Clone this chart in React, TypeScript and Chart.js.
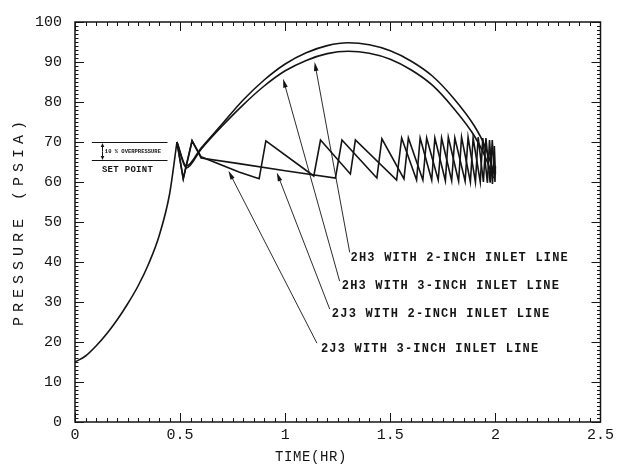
import { useEffect, useRef } from "react";
import { Chart, registerables } from "chart.js";

Chart.register(...registerables);

// ---- Data ----
const riseTime = [0, 0.05, 0.1, 0.15, 0.2, 0.25, 0.3, 0.35, 0.4, 0.45, 0.485];
const risePressure = [15, 16.5, 19, 22, 25.5, 29.5, 34, 39.5, 46.5, 57, 70];

const h3TwoInchTime = [0.485, 0.53, 0.6, 0.7, 0.8, 0.9, 1.0, 1.1, 1.2, 1.3, 1.4, 1.5, 1.6, 1.7, 1.8, 1.9, 1.95, 1.995];
const h3TwoInchPressure = [70, 64, 68.5, 74.5, 80.5, 85.5, 89.5, 92.3, 94.1, 94.8, 94.3, 92.8, 90.2, 86.5, 81, 74, 69, 62];

const h3ThreeInchTime = [0.485, 0.53, 0.6, 0.7, 0.8, 0.9, 1.0, 1.1, 1.2, 1.3, 1.4, 1.5, 1.6, 1.7, 1.8, 1.9, 1.95, 1.99];
const h3ThreeInchPressure = [70, 63.5, 68.2, 74, 79.3, 84, 87.8, 90.4, 92.1, 92.7, 92.2, 90.7, 88, 84.2, 78.5, 71.5, 66.5, 61];

const j3TwoInchTime = [0.485, 0.515, 0.557, 0.6, 0.78, 0.876, 0.908, 1.136, 1.168, 1.31, 1.334, 1.53, 1.554, 1.625, 1.642, 1.697, 1.712, 1.762, 1.776, 1.825, 1.839, 1.881, 1.894, 1.928, 1.94, 1.962, 1.972, 1.986, 1.995, 2.0];
const j3TwoInchPressure = [70, 60.8, 70.3, 66.3, 62.5, 60.8, 70.3, 61.5, 70.5, 62, 70.5, 60.5, 71, 60.5, 71, 60.5, 71, 60.3, 71.2, 60.2, 71.2, 60, 71, 60, 71, 59.8, 70.5, 59.5, 69, 62];

const j3ThreeInchTime = [0.485, 0.515, 0.557, 0.6, 0.78, 1.0, 1.239, 1.27, 1.436, 1.46, 1.565, 1.586, 1.655, 1.673, 1.728, 1.744, 1.792, 1.807, 1.856, 1.87, 1.905, 1.918, 1.943, 1.955, 1.975, 1.985, 1.998, 2.0];
const j3ThreeInchPressure = [70, 60.8, 70.3, 66, 64.6, 62.8, 61, 70.5, 61, 70.8, 60.8, 71, 60.5, 71, 60.5, 71, 60.3, 71, 60.2, 71.2, 60, 71.2, 60, 71, 59.8, 70.5, 60, 64];

const xTickLabels = ["0", "0.5", "1", "1.5", "2", "2.5"];
const yTickLabels = ["0", "10", "20", "30", "40", "50", "60", "70", "80", "90", "100"];

const seriesLabels = [
  "2H3 WITH 2-INCH INLET LINE",
  "2H3 WITH 3-INCH INLET LINE",
  "2J3 WITH 2-INCH INLET LINE",
  "2J3 WITH 3-INCH INLET LINE",
];
const xTitle = "TIME(HR)";
const yTitle = "PRESSURE (PSIA)";
const overpressureText = "10 % OVERPRESSURE";
const setPointText = "SET POINT";
const setPointPressure = 65.5;
const overpressurePressure = 70;

const INK = "#141414";
const MONO = '"Liberation Mono", "DejaVu Sans Mono", monospace';

function pairs(t: number[], p: number[]) {
  return t.map((v, i) => ({ x: v, y: p[i] }));
}

// annotation placements (data coordinates): text anchor, arrow start, arrow tip
const callouts = [
  { text: seriesLabels[0], tx: 1.311, ty: 40.3, sx: 1.307, sy: 42.4, ex: 1.14, ey: 90.0 },
  { text: seriesLabels[1], tx: 1.269, ty: 33.2, sx: 1.259, sy: 35.2, ex: 0.99, ey: 85.8 },
  { text: seriesLabels[2], tx: 1.222, ty: 26.2, sx: 1.212, sy: 28.2, ex: 0.96, ey: 62.4 },
  { text: seriesLabels[3], tx: 1.17, ty: 17.5, sx: 1.151, sy: 19.7, ex: 0.73, ey: 62.8 },
];

function arrow(ctx: CanvasRenderingContext2D, x1: number, y1: number, x2: number, y2: number, len = 9, half = 2.3) {
  const ang = Math.atan2(y2 - y1, x2 - x1);
  ctx.beginPath();
  ctx.moveTo(x1, y1);
  ctx.lineTo(x2 - Math.cos(ang) * (len - 2), y2 - Math.sin(ang) * (len - 2));
  ctx.stroke();
  ctx.beginPath();
  ctx.moveTo(x2, y2);
  ctx.lineTo(x2 - Math.cos(ang) * len - Math.sin(ang) * half, y2 - Math.sin(ang) * len + Math.cos(ang) * half);
  ctx.lineTo(x2 - Math.cos(ang) * len + Math.sin(ang) * half, y2 - Math.sin(ang) * len - Math.cos(ang) * half);
  ctx.closePath();
  ctx.fill();
}

const decor = {
  id: "decor",
  afterDraw(chart: any) {
    const { ctx, chartArea: a } = chart;
    const x = chart.scales.x;
    const y = chart.scales.y;
    ctx.save();
    ctx.strokeStyle = INK;
    ctx.fillStyle = INK;
    // frame
    ctx.lineWidth = 1.5;
    ctx.strokeRect(a.left, a.top, a.right - a.left, a.bottom - a.top);
    // inward ticks
    ctx.lineWidth = 1;
    ctx.beginPath();
    for (let i = 0; i <= 50; i++) {
      const px = Math.round(x.getPixelForValue(i * 0.05)) + 0.5;
      const len = i % 10 === 0 ? 9 : 4;
      ctx.moveTo(px, a.bottom);
      ctx.lineTo(px, a.bottom - len);
      ctx.moveTo(px, a.top);
      ctx.lineTo(px, a.top + len);
    }
    for (let i = 0; i <= 100; i++) {
      const py = Math.round(y.getPixelForValue(i)) + 0.5;
      const len = i % 10 === 0 ? 9 : 3.5;
      ctx.moveTo(a.left, py);
      ctx.lineTo(a.left + len, py);
      ctx.moveTo(a.right, py);
      ctx.lineTo(a.right - len, py);
    }
    ctx.stroke();

    // axis titles
    ctx.font = `14px ${MONO}`;
    (ctx as any).letterSpacing = "0.6px";
    ctx.textAlign = "center";
    ctx.textBaseline = "middle";
    ctx.fillText(xTitle, 311, 457);
    ctx.save();
    ctx.translate(19, (a.top + a.bottom) / 2 + 1);
    ctx.rotate(-Math.PI / 2);
    ctx.font = `15px ${MONO}`;
    (ctx as any).letterSpacing = "5px";
    ctx.fillText(yTitle, 2, 0);
    ctx.restore();

    // set point annotation
    const lx1 = x.getPixelForValue(0.08);
    const lx2 = x.getPixelForValue(0.44);
    const yTop = Math.round(y.getPixelForValue(overpressurePressure)) + 0.5;
    const yBot = Math.round(y.getPixelForValue(setPointPressure)) + 0.5;
    ctx.lineWidth = 1;
    ctx.beginPath();
    ctx.moveTo(lx1, yTop);
    ctx.lineTo(lx2, yTop);
    ctx.moveTo(lx1, yBot);
    ctx.lineTo(lx2, yBot);
    ctx.stroke();
    const ax = Math.round(x.getPixelForValue(0.127)) + 0.5;
    const mid = (yTop + yBot) / 2;
    arrow(ctx, ax, mid, ax, yTop + 0.5, 4, 1.8);
    arrow(ctx, ax, mid, ax, yBot - 0.5, 4, 1.8);
    ctx.textAlign = "left";
    ctx.textBaseline = "middle";
    ctx.font = `bold 5.5px ${MONO}`;
    (ctx as any).letterSpacing = "0px";
    ctx.fillText(overpressureText, x.getPixelForValue(0.142), mid);
    ctx.font = `bold 9px ${MONO}`;
    (ctx as any).letterSpacing = "0.3px";
    ctx.textBaseline = "alphabetic";
    ctx.fillText(setPointText, x.getPixelForValue(0.128), yBot + 11);

    // callouts
    ctx.lineWidth = 0.9;
    ctx.font = `bold 12px ${MONO}`;
    (ctx as any).letterSpacing = "1.2px";
    for (const c of callouts) {
      arrow(ctx, x.getPixelForValue(c.sx), y.getPixelForValue(c.sy), x.getPixelForValue(c.ex), y.getPixelForValue(c.ey));
      ctx.fillText(c.text, x.getPixelForValue(c.tx), y.getPixelForValue(c.ty));
    }
    ctx.restore();
  },
};

export default function App() {
  const ref = useRef<HTMLCanvasElement | null>(null);
  useEffect(() => {
    document.body.style.margin = "0";
    document.body.style.background = "#ffffff";
    const canvas = ref.current;
    if (!canvas) return;
    const line = (t: number[], p: number[], smooth: boolean) => ({
      data: pairs(t, p),
      borderColor: INK,
      borderWidth: 1.6,
      pointRadius: 0,
      fill: false,
      tension: smooth ? 0.4 : 0,
      cubicInterpolationMode: smooth ? ("monotone" as const) : ("default" as const),
    });
    const chart = new Chart(canvas, {
      type: "line",
      data: {
        datasets: [
          line(riseTime, risePressure, true),
          line(h3TwoInchTime, h3TwoInchPressure, true),
          line(h3ThreeInchTime, h3ThreeInchPressure, true),
          line(j3TwoInchTime, j3TwoInchPressure, false),
          line(j3ThreeInchTime, j3ThreeInchPressure, false),
        ],
      },
      options: {
        animation: false,
        responsive: false,
        devicePixelRatio: 1,
        parsing: false as any,
        layout: { padding: { left: 0, right: 15, top: 21, bottom: 0 } },
        plugins: { legend: { display: false }, tooltip: { enabled: false }, title: { display: false } },
        scales: {
          x: {
            type: "linear",
            min: 0,
            max: 2.5,
            afterFit: (s: any) => {
              s.height = 46;
            },
            grid: { display: false, drawTicks: false },
            border: { display: false },
            ticks: {
              stepSize: 0.5,
              padding: 4,
              color: INK,
              font: { family: MONO, size: 15 },
              maxRotation: 0,
              autoSkip: false,
              callback: (_v: any, i: number) => xTickLabels[i],
            },
          },
          y: {
            type: "linear",
            min: 0,
            max: 100,
            afterFit: (s: any) => {
              s.width = 75;
            },
            grid: { display: false, drawTicks: false },
            border: { display: false },
            ticks: {
              stepSize: 10,
              padding: 13,
              color: INK,
              font: { family: MONO, size: 15 },
              autoSkip: false,
              callback: (_v: any, i: number) => yTickLabels[i],
            },
          },
        },
      },
      plugins: [decor],
    });
    return () => chart.destroy();
  }, []);
  return (
    <div style={{ width: 618, height: 468, background: "#fff" }}>
      <canvas ref={ref} width={618} height={468} />
    </div>
  );
}
